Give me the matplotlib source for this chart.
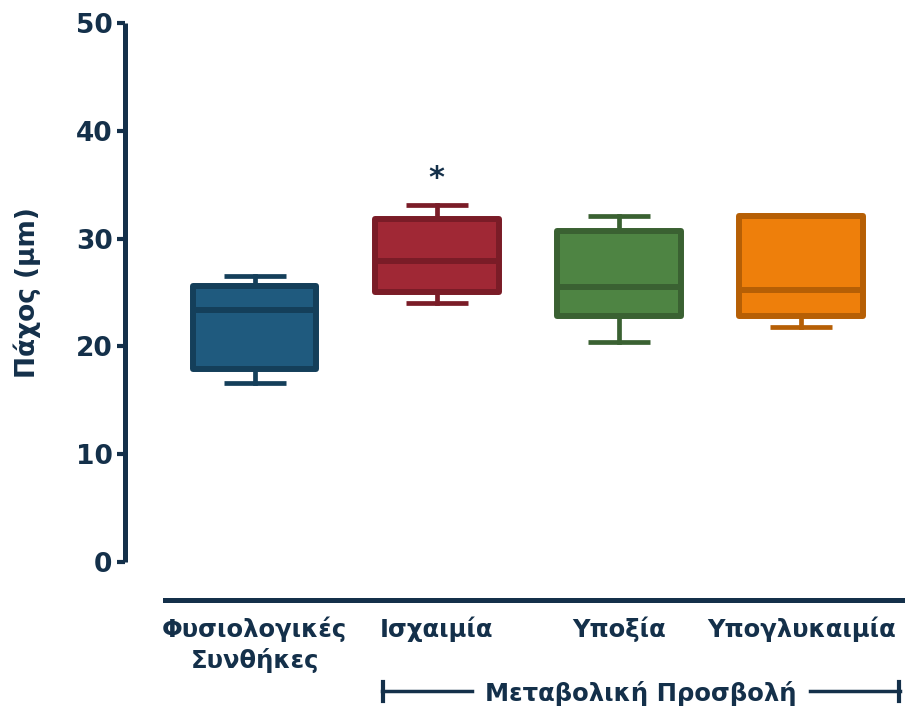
import matplotlib.pyplot as plt
from matplotlib.lines import Line2D
from matplotlib import font_manager

plt.rcParams['font.family'] = ['DejaVu Sans']

groups = ['Φυσιολογικές\nΣυνθήκες', 'Ισχαιμία', 'Υποξία', 'Υπογλυκαιμία']
whis_low = [16.6, 24.0, 20.4, 21.8]
q1 = [17.9, 25.0, 22.8, 22.8]
median = [23.4, 27.9, 25.5, 25.2]
q3 = [25.6, 31.8, 30.7, 32.1]
whis_high = [26.5, 33.1, 32.1, 32.1]

fills = ['#1f5a7e', '#a02835', '#4e8443', '#ee7f0b']
edges = ['#143f5a', '#7a1c27', '#3a6132', '#b65f05']
ink = '#14304a'

names = {f.name for f in font_manager.fontManager.ttflist}
if 'DejaVu Sans Condensed' in names:
    narrow, lab_fs = 'DejaVu Sans Condensed', 19.5
else:
    narrow, lab_fs = 'DejaVu Sans', 17.5

fig = plt.figure(figsize=(9.05, 7.11), dpi=100)
ax = fig.add_axes([0.1381, 0.2096, 0.8619, 0.7581])

stats = []
for i, g in enumerate(groups):
    stats.append(dict(label=g, whislo=whis_low[i], q1=q1[i], med=median[i],
                      q3=q3[i], whishi=whis_high[i], fliers=[]))

pos = list(range(len(groups)))
bp = ax.bxp(stats, positions=pos, widths=0.68, patch_artist=True,
            showfliers=False, capwidths=0.34)

for i in range(len(groups)):
    box = bp['boxes'][i]
    box.set_facecolor(fills[i])
    box.set_edgecolor(edges[i])
    box.set_linewidth(4.3)
    box.set_joinstyle('round')
    bp['medians'][i].set(color=edges[i], linewidth=4.3, solid_capstyle='butt')
    for k in (2 * i, 2 * i + 1):
        bp['whiskers'][k].set(color=edges[i], linewidth=3.4)
        bp['caps'][k].set(color=edges[i], linewidth=3.4, solid_capstyle='butt')

# significance marker
ax.text(1, 35.6, '*', ha='center', va='center', fontsize=22,
        fontweight='bold', color=ink)

ax.set_xlim(-0.711, 3.570)
ax.set_ylim(0, 50)
ax.set_yticks([0, 10, 20, 30, 40, 50])

for s in ('top', 'right'):
    ax.spines[s].set_visible(False)
ax.spines['left'].set_linewidth(3.6)
ax.spines['left'].set_color(ink)
ax.spines['left'].set_capstyle('butt')
ax.spines['bottom'].set_position(('outward', 27.4))
ax.spines['bottom'].set_bounds(-0.491, 3.570)
ax.spines['bottom'].set_linewidth(3.6)
ax.spines['bottom'].set_color(ink)

ax.tick_params(axis='y', length=6, width=3, color=ink, labelcolor=ink,
               labelsize=19, pad=3)
for t in ax.get_yticklabels():
    t.set_fontweight('bold')
ax.tick_params(axis='x', length=0, labelcolor=ink, pad=12)
ax.set_xticks(pos)
ax.set_xticklabels(groups, fontsize=lab_fs, fontweight='bold', family=narrow,
                   linespacing=1.3, va='top')

ax.set_ylabel('Πάχος (μm)', fontsize=lab_fs + 1.5, fontweight='bold', color=ink,
              family=narrow, labelpad=25)

# bracket grouping the metabolic insult conditions
by = 691
fig_h = 711.0
fx = lambda px: px / 905.0
fy = lambda py: 1 - py / fig_h
fig.add_artist(Line2D([fx(382), fx(472)], [fy(by), fy(by)], color=ink, lw=2.5))
fig.add_artist(Line2D([fx(810), fx(900)], [fy(by), fy(by)], color=ink, lw=2.5))
fig.add_artist(Line2D([fx(383), fx(383)], [fy(682), fy(701)], color=ink, lw=3))
fig.add_artist(Line2D([fx(899), fx(899)], [fy(682), fy(701)], color=ink, lw=3))
fig.text(fx(641), fy(by + 2), 'Μεταβολική Προσβολή', ha='center', va='center',
         fontsize=lab_fs, fontweight='bold', family=narrow, color=ink)

fig.savefig('out.png', dpi=100)
